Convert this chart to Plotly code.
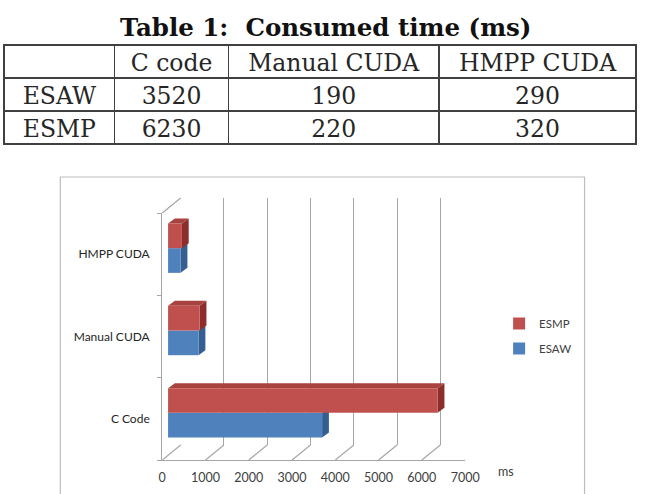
import plotly.graph_objects as go

# ---------------- data ----------------
table_title = "Table 1:  Consumed time (ms)"
table_columns = ["C code", "Manual CUDA", "HMPP CUDA"]
table_rows = ["ESAW", "ESMP"]
table_esaw = [3520, 190, 290]
table_esmp = [6230, 220, 320]

# values as drawn in the bar chart
chart_categories = ["C Code", "Manual CUDA", "HMPP CUDA"]   # bottom -> top
chart_esaw = [3560, 705, 290]
chart_esmp = [6230, 730, 320]
x_ticks = [0, 1000, 2000, 3000, 4000, 5000, 6000, 7000]
x_unit = "ms"

# ---------------- geometry helpers ----------------
W, H = 651, 494
def px(x):
    return x / W
def py(y):
    return 1 - y / H

SERIF = "DejaVu Serif"
SANS = "Lato"
GRID = "#a6a6a6"
RED, RED_TOP, RED_SIDE = "#C0504D", "#A8423F", "#8C2F2C"
BLUE, BLUE_SIDE = "#4F81BD", "#355F91"

XMAX = x_ticks[-1]
FRONT = dict(x0=163, x1=475, y0=213, y1=460)
BACK = dict(x0=182, x1=494, y0=198, y1=445)
BARS = dict(x0=169, x1=481, y0=207, y1=454)

fig = go.Figure()

# ---------------- table ----------------
fig.add_trace(go.Table(
    domain=dict(x=[0, 1], y=[py(146), py(45)]),
    columnwidth=[113, 116, 215, 201],
    header=dict(
        values=[""] + table_columns,
        align="center",
        height=33,
        fill_color="white",
        line=dict(color="#404040", width=1.5),
        font=dict(family=SERIF, size=23.5, color="#262626"),
    ),
    cells=dict(
        values=[table_rows,
                [table_esaw[0], table_esmp[0]],
                [table_esaw[1], table_esmp[1]],
                [table_esaw[2], table_esmp[2]]],
        align="center",
        height=33,
        fill_color="white",
        line=dict(color="#404040", width=1.5),
        font=dict(family=SERIF, size=23.5, color="#262626"),
    ),
))

# ---------------- chart ----------------
idx = list(range(len(chart_categories)))
fig.add_trace(go.Bar(
    name="ESAW", orientation="h", x=chart_esaw, y=idx, legendgroup="esaw", legendrank=2,
    customdata=chart_categories, hovertemplate="%{customdata}: %{x} ms<extra>ESAW</extra>",
    marker=dict(color=BLUE, line=dict(width=0)),
    xaxis="x3", yaxis="y3",
))
fig.add_trace(go.Bar(
    name="ESMP", orientation="h", x=chart_esmp, y=idx, legendgroup="esmp", legendrank=1,
    customdata=chart_categories, hovertemplate="%{customdata}: %{x} ms<extra>ESMP</extra>",
    marker=dict(color=RED, line=dict(width=0)),
    xaxis="x3", yaxis="y3",
))
fig.add_trace(go.Scatter(x=[0] * len(chart_categories), y=chart_categories, mode="markers",
                         marker=dict(opacity=0), showlegend=False, hoverinfo="skip",
                         xaxis="x", yaxis="y"))
fig.add_trace(go.Scatter(x=[0], y=[0], mode="markers", marker=dict(opacity=0),
                         showlegend=False, hoverinfo="skip", xaxis="x2", yaxis="y2"))

BARGAP = 0.4
half = (1 - BARGAP) / 2

shapes = []
shapes.append(dict(type="rect", xref="paper", yref="paper",
                   x0=px(58), x1=px(598), y0=py(520), y1=py(177),
                   line=dict(color="#bdbdbd", width=1.2), layer="below"))

depth_x_units = (BACK["x0"] - FRONT["x0"]) * XMAX / (FRONT["x1"] - FRONT["x0"])
shapes.append(dict(type="line", xref="paper", yref="paper",
                   x0=px(FRONT["x0"]), y0=py(FRONT["y0"]), x1=px(BACK["x0"]), y1=py(BACK["y0"]),
                   line=dict(color=GRID, width=1.2)))
for t in x_ticks:
    shapes.append(dict(type="line", xref="x", yref="paper",
                       x0=t, y0=py(FRONT["y1"]), x1=t + depth_x_units, y1=py(BACK["y1"]),
                       line=dict(color=GRID, width=1.2), layer="below"))

ux = XMAX / (BARS["x1"] - BARS["x0"])
uy = len(chart_categories) / (BARS["y1"] - BARS["y0"])
dx, dy = 7 * ux, 5 * uy
for i, v in enumerate(chart_esaw):
    lo, hi = i - half, i
    shapes.append(dict(type="path", xref="x3", yref="y3", layer="between",
                       path=f"M {v},{lo} L {v+dx},{lo+dy} L {v+dx},{hi+dy} L {v},{hi} Z",
                       fillcolor=BLUE_SIDE, line=dict(width=0)))
for i, v in enumerate(chart_esmp):
    lo, hi = i, i + half
    shapes.append(dict(type="path", xref="x3", yref="y3", layer="between",
                       path=f"M {v},{lo} L {v+dx},{lo+dy} L {v+dx},{hi+dy} L {v},{hi} Z",
                       fillcolor=RED_SIDE, line=dict(width=0)))
    shapes.append(dict(type="path", xref="x3", yref="y3", layer="between",
                       path=f"M 0,{hi} L {dx},{hi+dy} L {v+dx},{hi+dy} L {v},{hi} Z",
                       fillcolor=RED_TOP, line=dict(width=0)))

annotations = [
    dict(text=f"<b>{table_title}</b>", x=px(331), y=py(27), xref="paper", yref="paper",
         showarrow=False, font=dict(family=SERIF, size=24.5, color="#111111"),
         xanchor="center", yanchor="middle"),
    dict(text=x_unit, x=px(507), y=py(471), xref="paper", yref="paper", showarrow=False,
         font=dict(family=SANS, size=12.5, color="#404040"), xanchor="left", yanchor="middle"),
]

fig.update_layout(
    width=W, height=H,
    margin=dict(l=0, r=0, t=0, b=0),
    paper_bgcolor="white",
    plot_bgcolor="rgba(0,0,0,0)",
    barmode="group", bargap=BARGAP, bargroupgap=0,
    shapes=shapes,
    annotations=annotations,
    showlegend=True,
    legend=dict(x=px(510), y=py(309), xanchor="left", yanchor="top",
                traceorder="grouped", tracegroupgap=6,
                font=dict(family=SANS, size=11.5, color="#404040"),
                bgcolor="rgba(0,0,0,0)", itemwidth=30),
    xaxis=dict(domain=[px(FRONT["x0"]), px(FRONT["x1"])], range=[0, XMAX], anchor="y",
               tickvals=x_ticks, ticks="", showgrid=False, zeroline=False,
               showline=True, linecolor=GRID, linewidth=1.2,
               tickfont=dict(family=SANS, size=12.5, color="#404040"), ticklabelstandoff=6,
               fixedrange=True),
    yaxis=dict(domain=[py(FRONT["y1"]), py(FRONT["y0"])], anchor="x", type="category",
               categoryorder="array", categoryarray=chart_categories,
               range=[-0.5, len(chart_categories) - 0.5],
               tickson="boundaries", ticks="outside", ticklen=4, tickcolor=GRID,
               showgrid=False, zeroline=False, showline=True, linecolor=GRID, linewidth=1.2,
               tickfont=dict(family=SANS, size=12, color="#262626"), ticklabelstandoff=9,
               fixedrange=True),
    xaxis2=dict(domain=[px(BACK["x0"]), px(BACK["x1"])], range=[0, XMAX], anchor="y2",
                tickvals=x_ticks, showticklabels=False, ticks="", showgrid=True,
                gridcolor=GRID, gridwidth=1.2, zeroline=False, showline=False, fixedrange=True),
    yaxis2=dict(domain=[py(BACK["y1"]), py(BACK["y0"])], anchor="x2", range=[0, 1],
                showticklabels=False, showgrid=False, zeroline=False, showline=False,
                fixedrange=True),
    xaxis3=dict(domain=[px(BARS["x0"]), px(BARS["x1"])], range=[0, XMAX], anchor="y3",
                visible=False, fixedrange=True),
    yaxis3=dict(domain=[py(BARS["y1"]), py(BARS["y0"])], anchor="x3",
                range=[-0.5, len(chart_categories) - 0.5], visible=False, fixedrange=True),
)

fig.write_html("out.html")
